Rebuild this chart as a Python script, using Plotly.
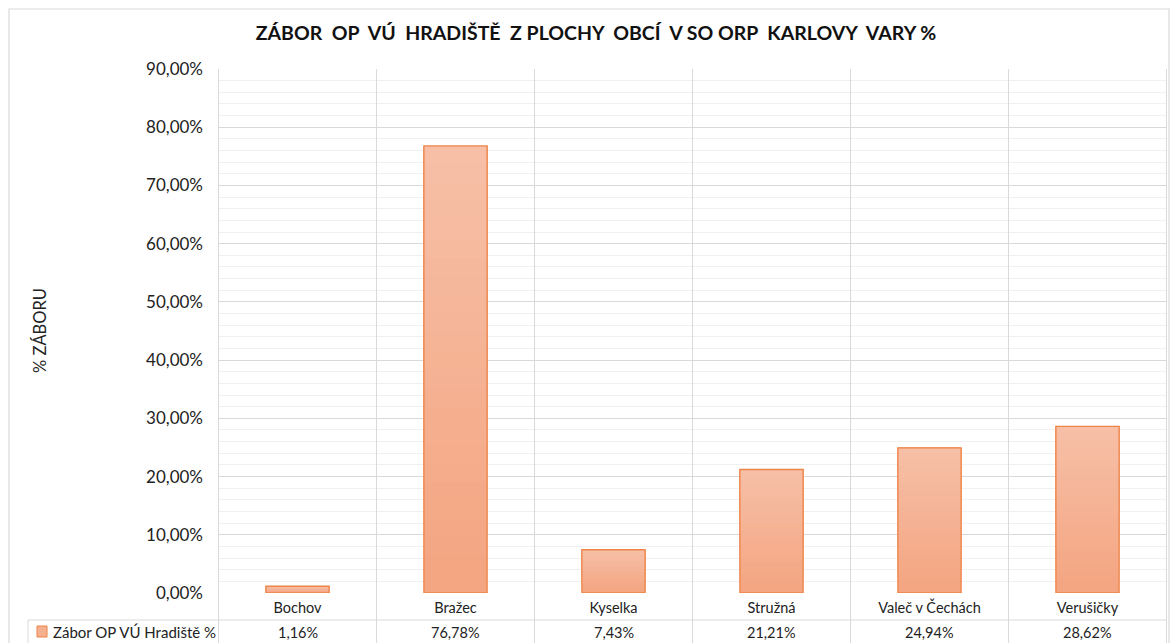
import plotly.graph_objects as go

# Data
obce = ["Bochov", "Bražec", "Kyselka", "Stružná", "Valeč v Čechách", "Verušičky"]
zabor_pct = [1.16, 76.78, 7.43, 21.21, 24.94, 28.62]
serie = "Zábor OP VÚ Hradiště %"
titulek = "ZÁBOR  OP  VÚ  HRADIŠTĚ  Z PLOCHY  OBCÍ  V SO ORP  KARLOVY  VARY %"
osa_y = "% ZÁBORU"

W, H = 1170, 643
L, R, T, B = 218, 3, 69, 50
pw, ph = W - L - R, H - T - B

def px_x(x):
    return (x - L) / pw

def px_y(y):
    return (H - B - y) / ph

FONT = "Lato, Calibri, sans-serif"
TOP_RGB = (246, 192, 167)
BOTTOM_RGB = (244, 164, 128)
FILL = "#F5B090"
EDGE = "#EE8448"
GRID = "#D9D9D9"
BAR_W = 0.4
STEPS = 24

hodnoty = [v / 100 for v in zabor_pct]

def mix(t):
    r, g, b = (round(BOTTOM_RGB[i] + (TOP_RGB[i] - BOTTOM_RGB[i]) * t) for i in range(3))
    return f"rgb({r},{g},{b})"

fig = go.Figure()
# vertical gradient fill: overlaid slices, each one covering the bar from its step upward
for k in range(STEPS):
    f = k / STEPS
    fig.add_trace(go.Bar(
        x=obce,
        y=[v * (1 - f) for v in hodnoty],
        base=[v * f for v in hodnoty],
        width=BAR_W,
        marker=dict(color=mix((k + 0.5) / STEPS), line=dict(width=0)),
        showlegend=False, hoverinfo="skip",
    ))
# the series itself with its outline
fig.add_trace(go.Bar(
    x=obce,
    y=hodnoty,
    width=BAR_W,
    marker=dict(color="rgba(0,0,0,0)", line=dict(color=EDGE, width=1.3)),
    name=serie,
    showlegend=False,
    hovertemplate="%{x}: %{y:.2%}<extra></extra>",
))

shapes = []
line = dict(color=GRID, width=1)
# outer chart frame
shapes.append(dict(type="rect", xref="paper", yref="paper",
                   x0=px_x(9), x1=px_x(1169), y0=px_y(660), y1=px_y(9),
                   line=dict(color="#D9D9D9", width=1.2), layer="below"))
# data table: vertical separators at category boundaries
for i in range(len(obce) + 1):
    shapes.append(dict(type="line", xref="x", yref="paper",
                       x0=i - 0.5, x1=i - 0.5, y0=1, y1=px_y(660), line=line))
# data table: horizontal rule between names and values
shapes.append(dict(type="line", xref="paper", yref="paper",
                   x0=px_x(28), x1=1, y0=px_y(620), y1=px_y(620), line=line))
shapes.append(dict(type="line", xref="paper", yref="paper",
                   x0=px_x(28), x1=px_x(28), y0=px_y(620), y1=px_y(660), line=line))
# legend key in data table
shapes.append(dict(type="rect", xref="paper", yref="paper",
                   x0=px_x(37), x1=px_x(47), y0=px_y(637), y1=px_y(626),
                   fillcolor=FILL, line=dict(color=EDGE, width=1)))

annotations = []
for name, v in zip(obce, zabor_pct):
    annotations.append(dict(
        x=name, xref="x", y=px_y(632), yref="paper",
        text=f"{v:.2f}".replace(".", ",") + "%",
        showarrow=False, xanchor="center", yanchor="middle",
        font=dict(family=FONT, size=14.5, color="#222222"),
    ))
annotations.append(dict(
    x=px_x(51), xref="paper", y=px_y(632), yref="paper",
    text=serie, showarrow=False, xanchor="left", yanchor="middle",
    font=dict(family=FONT, size=15, color="#222222"),
))
annotations.append(dict(
    x=px_x(40), xref="paper", y=0.5, yref="paper",
    text=osa_y, textangle=-90, showarrow=False,
    xanchor="center", yanchor="middle",
    font=dict(family=FONT, size=16.5, color="#222222"),
))

fig.update_layout(
    width=W, height=H,
    margin=dict(l=L, r=R, t=T, b=B, pad=0),
    paper_bgcolor="white", plot_bgcolor="white",
    separators=",.",
    barmode="overlay",
    title=dict(text=f"<b>{titulek}</b>", x=596 / W, xref="container",
               xanchor="center", y=1 - 33 / H, yref="container", yanchor="middle",
               font=dict(family=FONT, size=19.5, color="#111111")),
    xaxis=dict(
        type="category", tickson="boundaries", showgrid=True, gridcolor=GRID,
        ticks="", showline=False, zeroline=False,
        tickfont=dict(family=FONT, size=14.5, color="#222222"),
        ticklabelstandoff=4,
    ),
    yaxis=dict(
        range=[0, 0.9], dtick=0.1, tickformat=".2%",
        showgrid=True, gridcolor=GRID, gridwidth=1, zeroline=False,
        showline=False, ticks="",
        minor=dict(dtick=0.02, showgrid=True, gridcolor="#F0F0F0", gridwidth=1),
        tickfont=dict(family=FONT, size=17, color="#222222"),
        ticklabelstandoff=14,
    ),
    shapes=shapes,
    annotations=annotations,
)

fig.write_html("out.html")
